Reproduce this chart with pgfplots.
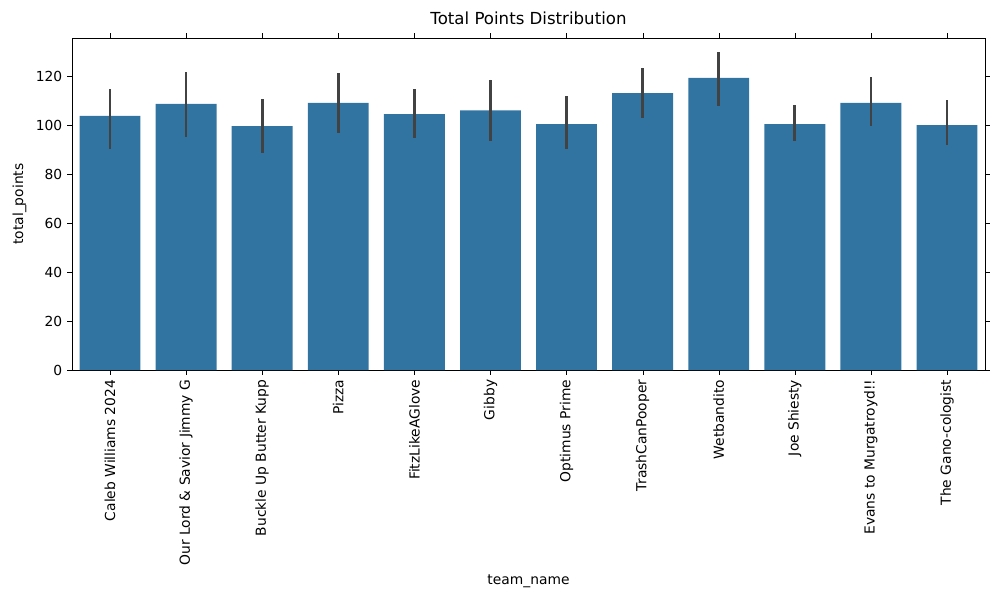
\documentclass[border=0pt]{standalone}
\usepackage{pgfplots}
\pgfplotsset{compat=1.18}
\usepackage{fontspec}
\setmainfont{DejaVu Sans}
\definecolor{bar}{HTML}{3274A1}
\definecolor{err}{HTML}{424242}
\begin{document}
\fontsize{10}{12}\selectfont
\begin{tikzpicture}
\begin{axis}[
  at={(0,0)}, anchor=south west,
  scale only axis, width=660pt, height=240pt,
  xmin=-0.5, xmax=11.5, ymin=0, ymax=135.5,
  xtick={0,...,11},
  xticklabels={Caleb Williams 2024,Our Lord \& Savior Jimmy G,Buckle Up Butter Kupp,Pizza,FitzLikeAGlove,Gibby,Optimus Prime,TrashCanPooper,Wetbandito,Joe Shiesty,Evans to Murgatroyd!!,The Gano-cologist},
  xticklabel style={rotate=90,anchor=east},
  ytick={0,20,...,120},
  tick align=outside, tick style={black},
  major tick length=3.5pt,
  /pgf/number format/assume math mode=true,
  ylabel={total\_points}, xlabel={team\_name},
  title={Total Points Distribution},
  title style={font=\fontsize{12}{14}\selectfont},
  ybar, bar width=0.8, bar shift=0pt,
]
\addplot[fill=bar, draw=none,
  error bars/.cd, y dir=both, y explicit,
  error bar style={line width=2pt, err}, error mark=none]
coordinates {
(0,103.7) +- (0,0) +=(0,11.0) -=(0,13.5)
};
\addplot[fill=bar, draw=none,
  error bars/.cd, y dir=both, y explicit,
  error bar style={line width=2pt, err}, error mark=none]
table[x=x,y=y,y error plus=ep,y error minus=em] {
x y ep em
0 103.7 11.0 13.5
1 108.6 13.0 13.5
2 99.6 11.0 11.0
3 109.0 12.2 12.3
4 104.5 10.2 9.8
5 106.0 12.4 12.5
6 100.4 11.4 10.2
7 113.0 10.3 10.1
8 119.2 10.6 11.4
9 100.4 7.8 6.9
10 109.0 10.6 9.4
11 100.0 10.2 8.2
};
\end{axis}
\useasboundingbox (-52pt,-166.2pt) rectangle (670.8pt,267.5pt);
\end{tikzpicture}
\end{document}
